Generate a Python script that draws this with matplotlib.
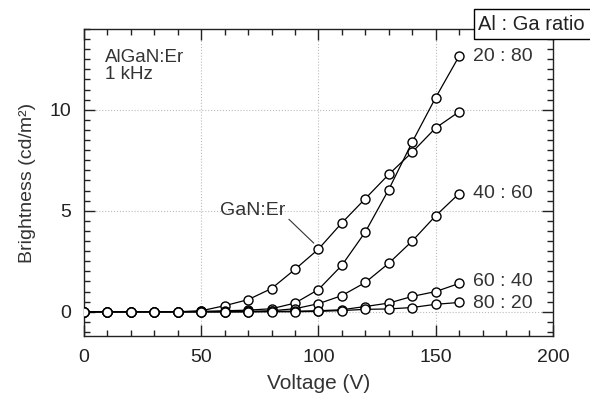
import numpy as np
import matplotlib.pyplot as plt
from matplotlib.ticker import MultipleLocator
from matplotlib.patches import Rectangle

plt.rcParams['font.family'] = ['Liberation Sans', 'DejaVu Sans']

# voltage steps (V)
voltage = [0, 10, 20, 30, 40, 50, 60, 70, 80, 90, 100, 110, 120, 130, 140, 150, 160]

# brightness (cd/m2)
gan_er = [0, 0, 0, 0, 0, 0.05, 0.3, 0.6, 1.15, 2.1, 3.1, 4.4, 5.6, 6.8, 7.9, 9.1, 9.9]
r20_80 = [0, 0, 0, 0, 0, 0.02, 0.05, 0.08, 0.15, 0.43, 1.1, 2.3, 3.95, 6.05, 8.4, 10.6, 12.65]
r40_60 = [0, 0, 0, 0, 0, 0, 0, 0.02, 0.05, 0.15, 0.4, 0.8, 1.45, 2.4, 3.5, 4.75, 5.85]
r60_40 = [0, 0, 0, 0, 0, 0, 0, 0, 0.02, 0.03, 0.05, 0.1, 0.26, 0.43, 0.76, 1.0, 1.4]
r80_20 = [0, 0, 0, 0, 0, 0, 0, 0, 0, 0, 0.02, 0.06, 0.12, 0.14, 0.21, 0.37, 0.46]

series = [gan_er, r20_80, r40_60, r60_40, r80_20]
ratio_labels = ['20 : 80', '40 : 60', '60 : 40', '80 : 20']
ratio_y = [12.65, 5.85, 1.5, 0.4]

fig = plt.figure(figsize=(5.9, 3.96), dpi=100)
ax = fig.add_axes([0.1424, 0.1515, 0.7946, 0.7753])

for s in series:
    ax.plot(voltage, s, color='black', lw=0.9, marker='o', ms=6.5,
            mfc='white', mec='black', mew=1.0, zorder=3)

ax.set_xlim(0, 200)
ax.set_ylim(-1.2, 14)
ax.xaxis.set_major_locator(MultipleLocator(50))
ax.xaxis.set_minor_locator(MultipleLocator(10))
ax.yaxis.set_major_locator(MultipleLocator(5))
ax.yaxis.set_minor_locator(MultipleLocator(0.5))
ax.tick_params(which='both', direction='in', top=True, right=True,
               labelsize=14, colors='#222222', width=1.0)
ax.tick_params(which='major', length=8, pad=9)
ax.tick_params(which='minor', length=4)
ax.grid(True, which='major', ls=':', color='#bbbbbb', lw=0.8)
for sp in ax.spines.values():
    sp.set_linewidth(1.0)
    sp.set_color('#222222')

ax.set_xlabel('Voltage (V)', fontsize=15, color='#333333', labelpad=6)
ax.set_ylabel('Brightness (cd/m²)', fontsize=14, color='#333333', labelpad=10)

ax.text(9, 13.0, 'AlGaN:Er\n1 kHz', fontsize=13.5, va='top', ha='left',
        color='#333333', linespacing=0.95)
ax.annotate('GaN:Er', xy=(98, 3.4), xytext=(86, 5.0), fontsize=14,
            ha='right', va='center', color='#333333',
            arrowprops=dict(arrowstyle='-', color='#333333', lw=0.8,
                            shrinkA=0, shrinkB=0, relpos=(1.05, 0)))

for lab, yv in zip(ratio_labels, ratio_y):
    ax.text(166, yv, lab, fontsize=14, va='center', ha='left', color='#333333')

# "Al : Ga ratio" box in the top right corner, running off the edge
fig.patches.append(Rectangle((474 / 590, 1 - 39 / 396), 0.25, 30 / 396,
                             transform=fig.transFigure, fc='white', ec='black',
                             lw=1.0, zorder=10))
fig.text(478 / 590, 1 - 24 / 396, 'Al : Ga ratio', fontsize=14.5,
         va='center', ha='left', color='#222222', zorder=11)

fig.savefig('out.png', dpi=100)
